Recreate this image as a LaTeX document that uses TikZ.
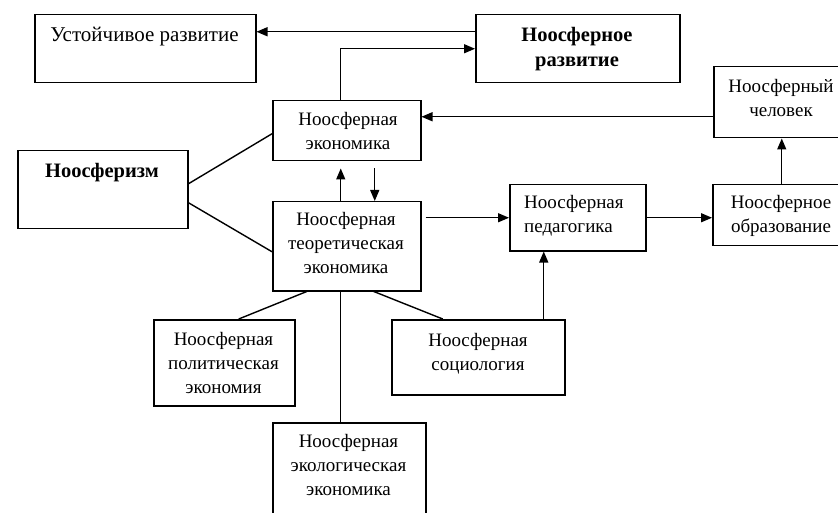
\documentclass[tikz,border=0pt]{standalone}
\usepackage{fontspec}
\setmainfont{Liberation Serif}
\usetikzlibrary{arrows.meta}
\begin{document}
\begin{tikzpicture}[x=1pt,y=-1pt,
  box/.style={draw,line width=1.5pt,inner sep=0pt,anchor=north west},
  txt/.style={font=\fontsize{19}{24}\selectfont,align=center,anchor=base,inner sep=0pt},
  btxt/.style={txt,font=\fontsize{20.5}{25}\selectfont\bfseries},
  ln/.style={line width=1.4pt},
  arr/.style={ln,-{Triangle[length=11pt,width=9pt]}}]
\clip (0,0) rectangle (838,513);
\fill[white] (0,0) rectangle (838,513);
% boxes
\node[box,minimum width=221pt,minimum height=68pt] (ust) at (34,14) {};
\node[box,minimum width=204pt,minimum height=68pt] (razv) at (475,14) {};
\node[box,minimum width=148pt,minimum height=60pt] (econ) at (272,100) {};
\node[box,minimum width=170pt,minimum height=78pt] (noos) at (17,150) {};
\node[box,minimum width=148pt,minimum height=89pt] (theor) at (272,201) {};
\node[box,minimum width=136pt,minimum height=66pt] (ped) at (509,184) {};
\node[box,minimum width=138pt,minimum height=61pt] (obr) at (712,184) {};
\node[box,minimum width=138pt,minimum height=71pt] (chel) at (713,66) {};
\node[box,minimum width=141pt,minimum height=86pt] (pol) at (153,319) {};
\node[box,minimum width=173pt,minimum height=75pt] (soc) at (391,319) {};
\node[box,minimum width=153pt,minimum height=103pt] (eco) at (272,422) {};
% texts (anchor = baseline of last line)
\node[txt,font=\fontsize{21}{25}\selectfont] (tust) at (144.5,42) {Устойчивое развитие};
\node[btxt] (trazv) at (577,67) {Ноосферное\\развитие};
\node[txt] (tecon) at (348,150) {Ноосферная\\экономика};
\node[btxt] (tnoos) at (102,178) {Ноосферизм};
\node[txt] (ttheor) at (346,273.5) {Ноосферная\\теоретическая\\экономика};
\node[txt,align=left,anchor=base west] (tped) at (524,233) {Ноосферная\\педагогика};
\node[txt] (tobr) at (781,233) {Ноосферное\\образование};
\node[txt] (tchel) at (781,117) {Ноосферный\\человек};
\node[txt] (tpol) at (223.5,393) {Ноосферная\\политическая\\экономия};
\node[txt] (tsoc) at (478,370) {Ноосферная\\социология};
\node[txt] (teco) at (348.5,495) {Ноосферная\\экологическая\\экономика};
% connectors
\draw[arr] ([yshift=17pt]razv.west) -- ([yshift=17pt]ust.east);
\draw[arr] ([xshift=-6pt]econ.north) |- (razv.west);
\draw[arr] ([yshift=-14.5pt]chel.west) -- ([yshift=-14.5pt]chel.west -| econ.east);
\draw[ln] ([yshift=6pt]noos.east) -- ([yshift=-3pt]econ.west);
\draw[ln] ([yshift=-13pt]noos.east) -- ([yshift=-5.5pt]theor.west);
\draw[arr,shorten >=7pt] ([xshift=-6pt]theor.north) -- ([xshift=-6pt]econ.south);
\draw[arr,shorten <=7pt] ([xshift=28pt]econ.south) -- ([xshift=28pt]theor.north);
\draw[arr,shorten <=4pt] (ped.west -| theor.east) -- (ped.west);
\draw[arr] (ped.east) -- (ped.east -| obr.west);
\draw[arr] (obr.north) -- (obr.north |- chel.south);
\draw[arr] ([xshift=-34pt]ped.south |- soc.north) -- ([xshift=-34pt]ped.south);
\draw[ln] ([xshift=-40pt]theor.south) -- ([xshift=14.5pt]pol.north);
\draw[ln] ([xshift=27pt]theor.south) -- ([xshift=-35.5pt]soc.north);
\draw[ln] ([xshift=-6pt]theor.south) -- ([xshift=-6pt]theor.south |- eco.north);
\end{tikzpicture}
\end{document}
